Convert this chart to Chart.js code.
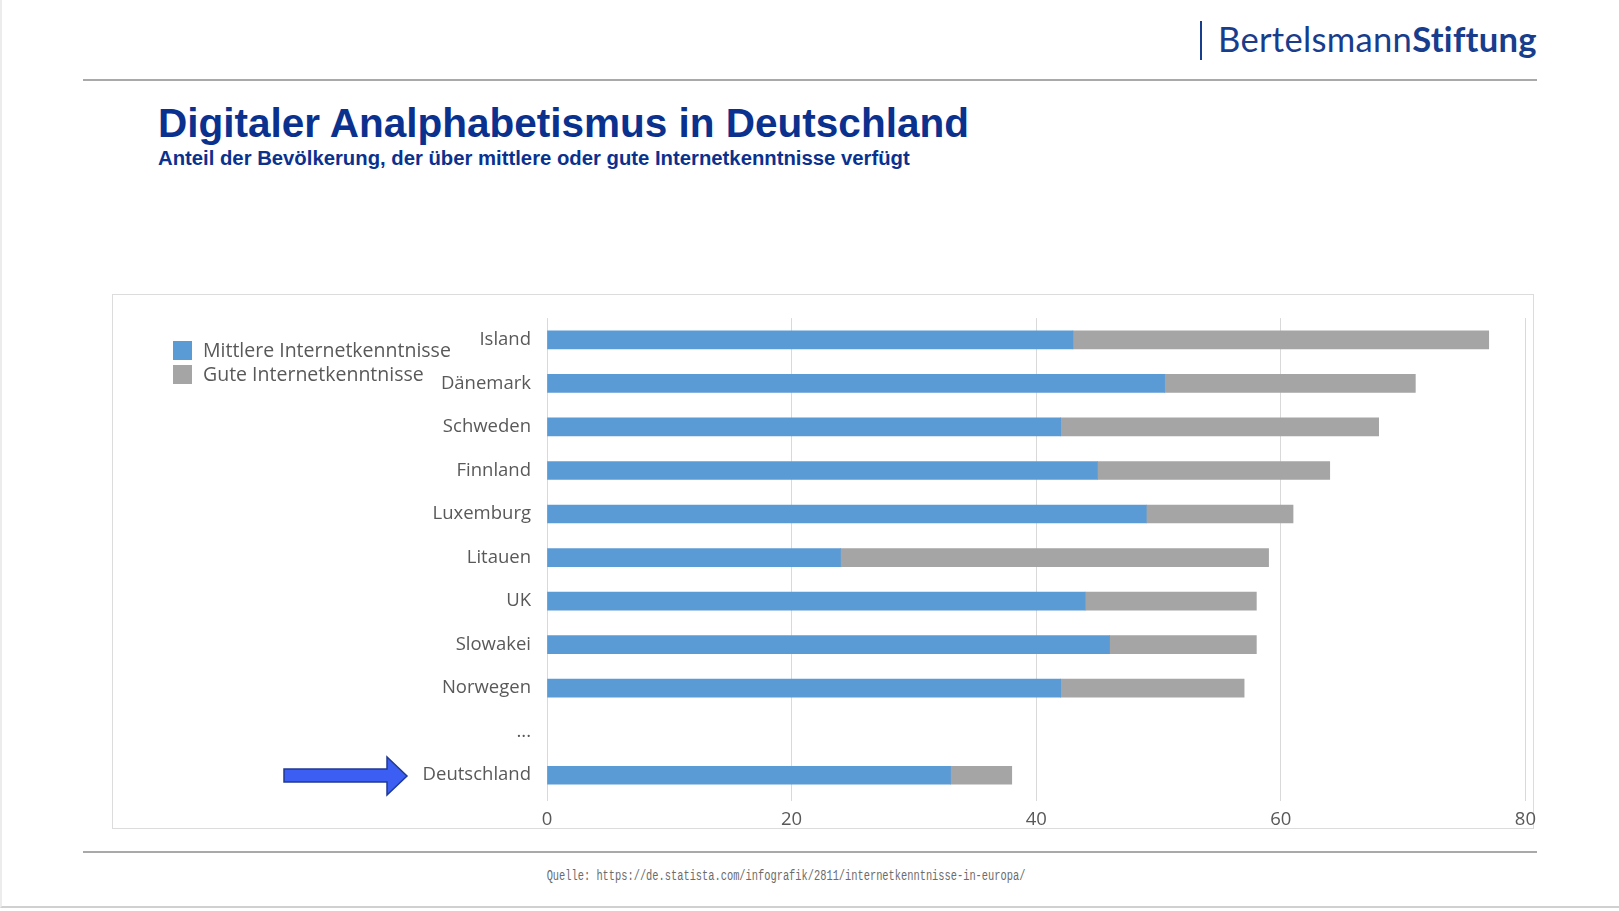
<!DOCTYPE html>
<html>
<head>
<meta charset="utf-8">
<title>Digitaler Analphabetismus in Deutschland</title>
<script src="https://cdn.jsdelivr.net/npm/chart.js@4"></script>
<style>
	body { margin: 0; background: #fff; }
	#seite { position: relative; width: 1619px; height: 911px; overflow: hidden; font-family: "Open Sans", sans-serif; }
	#rahmen { position: absolute; left: 0; top: 0; width: 1617px; height: 906px; border-left: 2px solid #ececec; border-bottom: 2px solid #d0d0d0; }
	.linie { position: absolute; left: 83px; width: 1454px; height: 0; border-top: 2px solid #a9a9a9; }
	#logoStrich { position: absolute; left: 1200px; top: 21px; width: 2px; height: 39px; background: #173d8c; }
	#logo { position: absolute; left: 1218px; top: 18px; font-family: Lato, sans-serif; font-size: 34.6px; color: #173d8c; letter-spacing: 0.3px; white-space: nowrap; }
	#logo b { font-weight: 700; }
	#titel { position: absolute; left: 158px; top: 100px; font-family: "Liberation Sans", Arial, sans-serif; font-weight: bold; font-size: 40.5px; color: #0b318f; white-space: nowrap; }
	#untertitel { position: absolute; left: 158px; top: 147px; font-family: "Liberation Sans", Arial, sans-serif; font-weight: bold; font-size: 20.3px; color: #0b318f; white-space: nowrap; }
	#box { position: absolute; left: 112px; top: 294px; width: 1420px; height: 533px; border: 1px solid #dcdcdc; }
	#grafik { position: absolute; left: 112px; top: 291px; width: 1432px; height: 538px; }
	#legende { position: absolute; left: 173px; top: 338px; font-size: 19.5px; color: #595959; }
	#legende div { height: 24px; line-height: 24px; white-space: nowrap; }
	#legende span { display: inline-block; width: 19px; height: 19px; vertical-align: -3px; margin-right: 11px; }
	#pfeil { position: absolute; left: 282px; top: 754px; }
	#quelle { position: absolute; left: 786px; top: 868px; transform: translateX(-50%) scaleX(0.74); font-family: "Liberation Mono", monospace; font-size: 14px; color: #6b6b6b; white-space: nowrap; }
</style>
</head>
<body>
<div id="seite">
	<div id="rahmen"></div>
	<div id="logoStrich"></div>
	<div id="logo">Bertelsmann<b>Stiftung</b></div>
	<div class="linie" style="top:79px"></div>
	<div id="titel">Digitaler Analphabetismus in Deutschland</div>
	<div id="untertitel">Anteil der Bevölkerung, der über mittlere oder gute Internetkenntnisse verfügt</div>
	<div id="box"></div>
	<canvas id="grafik" width="1432" height="538"></canvas>
	<div id="legende"></div>
	<svg id="pfeil" width="130" height="46">
		<polygon points="2,15 105,15 105,3 125,22 105,41 105,28 2,28" fill="#3d5ef2" stroke="#1f3a93" stroke-width="1.5"/>
	</svg>
	<div class="linie" style="top:851px"></div>
	<div id="quelle">Quelle: https://de.statista.com/infografik/2811/internetkenntnisse-in-europa/</div>
</div>

<script>
	// Laender, "..." ist nur ein Platzhalter ohne Balken
	let laender = ['Island', 'Dänemark', 'Schweden', 'Finnland', 'Luxemburg', 'Litauen', 'UK', 'Slowakei', 'Norwegen', '...', 'Deutschland'];

	// Anteile in Prozent
	let mittlere = [43, 50.5, 42, 45, 49, 24, 44, 46, 42, null, 33];
	let gute = [34, 20.5, 26, 19, 12, 35, 14, 12, 15, null, 5];

	let xTicks = [0, 20, 40, 60, 80];

	let serien = [
		{ label: 'Mittlere Internetkenntnisse', data: mittlere, farbe: '#5b9bd5' },
		{ label: 'Gute Internetkenntnisse', data: gute, farbe: '#a5a5a5' }
	];

	// legende selbst bauen, weil sie links neben den Achsenlabels sitzt
	let legende = document.getElementById('legende');
	serien.forEach(function(s){
		let zeile = document.createElement('div');
		let kasten = document.createElement('span');
		kasten.style.background = s.farbe;
		zeile.appendChild(kasten);
		zeile.appendChild(document.createTextNode(s.label));
		legende.appendChild(zeile);
	});

	let schrift = { family: '"Open Sans", sans-serif', size: 18.5 };

	new Chart('grafik', {
		type: 'bar',
		data: {
			labels: laender,
			datasets: serien.map(function(s){
				return {
					label: s.label,
					data: s.data,
					backgroundColor: s.farbe,
					barThickness: 18
				};
			})
		},
		options: {
			indexAxis: 'y',
			responsive: false,
			animation: false,
			layout: { padding: { top: 18, right: 0, left: 0, bottom: 0 } },
			plugins: {
				legend: { display: false },
				tooltip: { enabled: false }
			},
			scales: {
				x: {
					stacked: true,
					min: 0,
					max: 80,
					afterBuildTicks: function(scale){
						scale.ticks = xTicks.map(function(v){ return { value: v }; });
					},
					afterFit: function(scale){
						scale.height = 32;
					},
					grid: { color: '#d9d9d9', tickColor: '#d9d9d9', tickLength: 4 },
					border: { display: false },
					ticks: { color: '#595959', font: schrift, padding: 8 }
				},
				y: {
					stacked: true,
					afterFit: function(scale){
						scale.width = 435;
					},
					grid: { display: false, drawTicks: false },
					border: { display: false },
					ticks: { color: '#595959', font: schrift, padding: 16 }
				}
			}
		}
	});
</script>
</body>
</html>
